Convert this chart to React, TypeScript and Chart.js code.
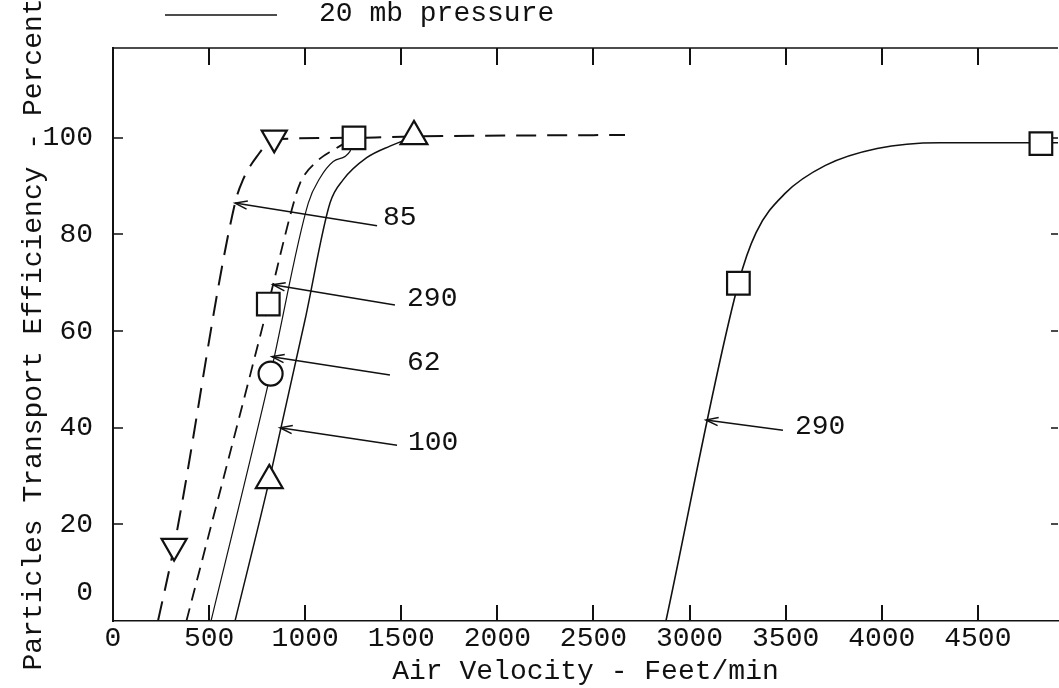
import React, { useEffect, useRef } from 'react';
import { Chart, registerables } from 'chart.js';

Chart.register(...registerables);

const FONT_FAMILY = "'Liberation Mono', 'DejaVu Sans Mono', monospace";
const FONT_SIZE = 28;
const INK = '#111111';
const CANVAS_W = 1059;
const CANVAS_H = 688;

// axes
const X_MIN = 0;
const X_MAX = 4917;
const Y_MIN = 0;
const Y_MAX = 118.6;
const X_TICKS = [0, 500, 1000, 1500, 2000, 2500, 3000, 3500, 4000, 4500];
const Y_TICKS = [0, 20, 40, 60, 80, 100];

const X_TITLE = 'Air Velocity - Feet/min';
const Y_TITLE = 'Particles Transport Efficiency - Percent';
const KEY_LABEL = '20 mb pressure';

// curve "85" (long dashes, down triangles), continues as the top dashed line
const C85_X = [234, 318, 635, 676, 748, 836, 1254, 1566, 2664];
const C85_Y = [0, 15.5, 86.5, 91.3, 96.1, 99.7, 100, 100.3, 100.6];
// curve "290" dashed (squares)
const C290D_X = [382, 808, 930, 973, 1060, 1146, 1254];
const C290D_Y = [0, 65.6, 85.1, 90.6, 95.1, 97.5, 99.9];
// curve "62" thin solid (circle)
const C62_X = [510, 820, 1016, 1077, 1146, 1233, 1254];
const C62_Y = [0, 51.2, 86.5, 91.7, 95.1, 97.2, 99.8];
// curve "100" solid (up triangles)
const C100_X = [635, 813, 999, 1129, 1197, 1320, 1441, 1566];
const C100_Y = [0, 29.1, 62.3, 86.5, 91.3, 95.9, 98.3, 100.2];
// curve "290" solid, 20 mb pressure (squares)
const C290S_X = [2877, 3254, 3346, 3497, 3707, 3976, 4303, 4745, 4917];
const C290S_Y = [0, 69.9, 80.4, 88.5, 94.3, 97.8, 99.0, 99.0, 99.0];

// measured points (markers)
const MK_DOWN_X = [318, 839];
const MK_DOWN_Y = [15.5, 100];
const MK_SQUARE_X = [808, 1254, 3254, 4828];
const MK_SQUARE_Y = [65.6, 100, 69.9, 98.8];
const MK_CIRCLE_X = [820];
const MK_CIRCLE_Y = [51.2];
const MK_UP_X = [813, 1566];
const MK_UP_Y = [29.1, 100.3];

// curve call-outs (arrow tip, arrow tail, text anchor) in data units
const NOTE_TEXT = ['85', '290', '62', '100', '290'];
const NOTE_TIP_X = [635, 832, 827, 869, 3085];
const NOTE_TIP_Y = [86.5, 69.6, 54.7, 40.0, 41.6];
const NOTE_TAIL_X = [1374, 1467, 1441, 1478, 3486];
const NOTE_TAIL_Y = [81.8, 65.4, 50.9, 36.4, 39.5];
const NOTE_TEXT_X = [1405, 1530, 1530, 1535, 3548];
const NOTE_TEXT_Y = [83.4, 66.7, 53.4, 36.9, 40.2];

const pts = (xs: number[], ys: number[]) => xs.map((x, i) => ({ x, y: ys[i] }));

const font = (extra: Record<string, unknown> = {}) => ({ family: FONT_FAMILY, size: FONT_SIZE, ...extra });

const framePlugin = {
  id: 'frameTicks',
  beforeDatasetsDraw(chart: any) {
    const { ctx, chartArea: a, scales } = chart;
    const xs = scales.x;
    const ys = scales.y;
    ctx.save();
    ctx.strokeStyle = INK;
    ctx.lineWidth = 1.4;
    ctx.beginPath();
    ctx.moveTo(a.left, a.top);
    ctx.lineTo(a.right, a.top);
    ctx.stroke();
    ctx.lineWidth = 2;
    X_TICKS.forEach((v) => {
      if (v === X_MIN) return;
      const px = Math.round(xs.getPixelForValue(v));
      ctx.beginPath();
      ctx.moveTo(px, a.bottom);
      ctx.lineTo(px, a.bottom - 16);
      ctx.moveTo(px, a.top);
      ctx.lineTo(px, a.top + 17);
      ctx.stroke();
    });
    ctx.lineWidth = 1.6;
    Y_TICKS.forEach((v) => {
      if (v === Y_MIN) return;
      const py = Math.round(ys.getPixelForValue(v));
      ctx.beginPath();
      ctx.moveTo(a.left, py);
      ctx.lineTo(a.left + 10, py);
      ctx.moveTo(a.right, py);
      ctx.lineTo(a.right - 7, py);
      ctx.stroke();
    });
    ctx.restore();
  },
};

const notesPlugin = {
  id: 'callouts',
  afterDatasetsDraw(chart: any) {
    const { ctx, scales } = chart;
    const xs = scales.x;
    const ys = scales.y;
    ctx.save();
    ctx.strokeStyle = INK;
    ctx.fillStyle = INK;
    ctx.lineWidth = 1.5;
    ctx.font = `${FONT_SIZE}px ${FONT_FAMILY}`;
    ctx.textAlign = 'left';
    ctx.textBaseline = 'middle';
    NOTE_TEXT.forEach((t, i) => {
      const tx = xs.getPixelForValue(NOTE_TIP_X[i]);
      const ty = ys.getPixelForValue(NOTE_TIP_Y[i]);
      const sx = xs.getPixelForValue(NOTE_TAIL_X[i]);
      const sy = ys.getPixelForValue(NOTE_TAIL_Y[i]);
      ctx.beginPath();
      ctx.moveTo(sx, sy);
      ctx.lineTo(tx, ty);
      ctx.stroke();
      const ang = Math.atan2(sy - ty, sx - tx);
      const len = 13;
      const spread = 0.32;
      ctx.beginPath();
      ctx.moveTo(tx + Math.cos(ang + spread) * len, ty + Math.sin(ang + spread) * len);
      ctx.lineTo(tx, ty);
      ctx.lineTo(tx + Math.cos(ang - spread) * len, ty + Math.sin(ang - spread) * len);
      ctx.stroke();
      ctx.fillText(t, xs.getPixelForValue(NOTE_TEXT_X[i]), ys.getPixelForValue(NOTE_TEXT_Y[i]));
    });
    ctx.restore();
  },
};

const keyPlugin = {
  id: 'pressureKey',
  afterDraw(chart: any) {
    const { ctx } = chart;
    ctx.save();
    ctx.strokeStyle = INK;
    ctx.fillStyle = INK;
    ctx.lineWidth = 1.5;
    ctx.beginPath();
    ctx.moveTo(165, 15);
    ctx.lineTo(277, 15);
    ctx.stroke();
    ctx.font = `${FONT_SIZE}px ${FONT_FAMILY}`;
    ctx.textAlign = 'left';
    ctx.textBaseline = 'middle';
    ctx.fillText(KEY_LABEL, 319, 14);
    ctx.restore();
  },
};

export default function App() {
  const ref = useRef<HTMLCanvasElement>(null);

  useEffect(() => {
    const lineDs = (label: string, xs: number[], ys: number[], width: number, dash: number[]) => ({
      label,
      data: pts(xs, ys),
      showLine: true,
      pointRadius: 0,
      borderColor: INK,
      backgroundColor: INK,
      borderWidth: width,
      borderDash: dash,
      cubicInterpolationMode: 'monotone',
      fill: false,
    });
    const markDs = (label: string, xs: number[], ys: number[], style: string, radius: number, rotation = 0) => ({
      label,
      data: pts(xs, ys),
      showLine: false,
      pointStyle: style,
      pointRadius: radius,
      pointRotation: rotation,
      pointBackgroundColor: '#ffffff',
      pointBorderColor: INK,
      pointBorderWidth: 2.2,
    });

    const chart = new Chart(ref.current as HTMLCanvasElement, {
      type: 'scatter',
      data: {
        datasets: [
          markDs('down triangles', MK_DOWN_X, MK_DOWN_Y, 'triangle', 14.5, 180),
          markDs('squares', MK_SQUARE_X, MK_SQUARE_Y, 'rect', 16),
          markDs('circle', MK_CIRCLE_X, MK_CIRCLE_Y, 'circle', 12),
          markDs('up triangles', MK_UP_X, MK_UP_Y, 'triangle', 15.5),
          lineDs('85', C85_X, C85_Y, 2, [20, 11]),
          lineDs('290 dashed', C290D_X, C290D_Y, 1.8, [13, 8]),
          lineDs('62', C62_X, C62_Y, 1.2, []),
          lineDs('100', C100_X, C100_Y, 1.5, []),
          lineDs('290 (20 mb)', C290S_X, C290S_Y, 1.6, []),
        ] as any,
      },
      options: {
        responsive: false,
        maintainAspectRatio: false,
        devicePixelRatio: 1,
        animation: false,
        layout: { autoPadding: false, padding: { top: 48, right: 1, left: 0, bottom: 0 } },
        plugins: {
          legend: { display: false },
          tooltip: { enabled: false },
        },
        scales: {
          x: {
            type: 'linear',
            position: 'bottom',
            min: X_MIN,
            max: X_MAX,
            afterFit: (s: any) => {
              s.height = 67;
              s.paddingLeft = 0;
              s.paddingRight = 0;
            },
            afterBuildTicks: (s: any) => {
              s.ticks = X_TICKS.map((v) => ({ value: v }));
            },
            ticks: {
              font: font(),
              color: INK,
              padding: 1,
              maxRotation: 0,
              autoSkip: false,
              callback: (v: any) => String(v),
            },
            grid: { display: false, drawTicks: false },
            border: { display: true, color: INK, width: 1.6 },
            title: {
              display: true,
              text: X_TITLE,
              font: font(),
              color: INK,
              padding: { top: 0, bottom: 0 },
            },
          },
          y: {
            type: 'linear',
            position: 'left',
            min: Y_MIN,
            max: Y_MAX,
            afterFit: (s: any) => {
              s.width = 113;
              s.paddingTop = 0;
              s.paddingBottom = 0;
            },
            afterBuildTicks: (s: any) => {
              s.ticks = Y_TICKS.map((v) => ({ value: v }));
            },
            ticks: {
              font: (c: any) => (c.tick && c.tick.value === 0 ? font({ lineHeight: 2 }) : font()),
              color: INK,
              padding: 20,
              autoSkip: false,
              callback: (v: any) => (Number(v) === 0 ? ['0', ''] : String(v)),
            },
            grid: { display: false, drawTicks: false },
            border: { display: true, color: INK, width: 2 },
            title: {
              display: true,
              text: Y_TITLE,
              font: font(),
              color: INK,
              padding: { top: 17, bottom: 0 },
            },
          },
        },
      } as any,
      plugins: [framePlugin, notesPlugin, keyPlugin],
    });
    return () => chart.destroy();
  }, []);

  return (
    <div style={{ position: 'fixed', left: 0, top: 0, width: CANVAS_W, height: CANVAS_H, background: '#ffffff' }}>
      <canvas ref={ref} width={CANVAS_W} height={CANVAS_H} style={{ display: 'block', width: CANVAS_W, height: CANVAS_H }} />
    </div>
  );
}
